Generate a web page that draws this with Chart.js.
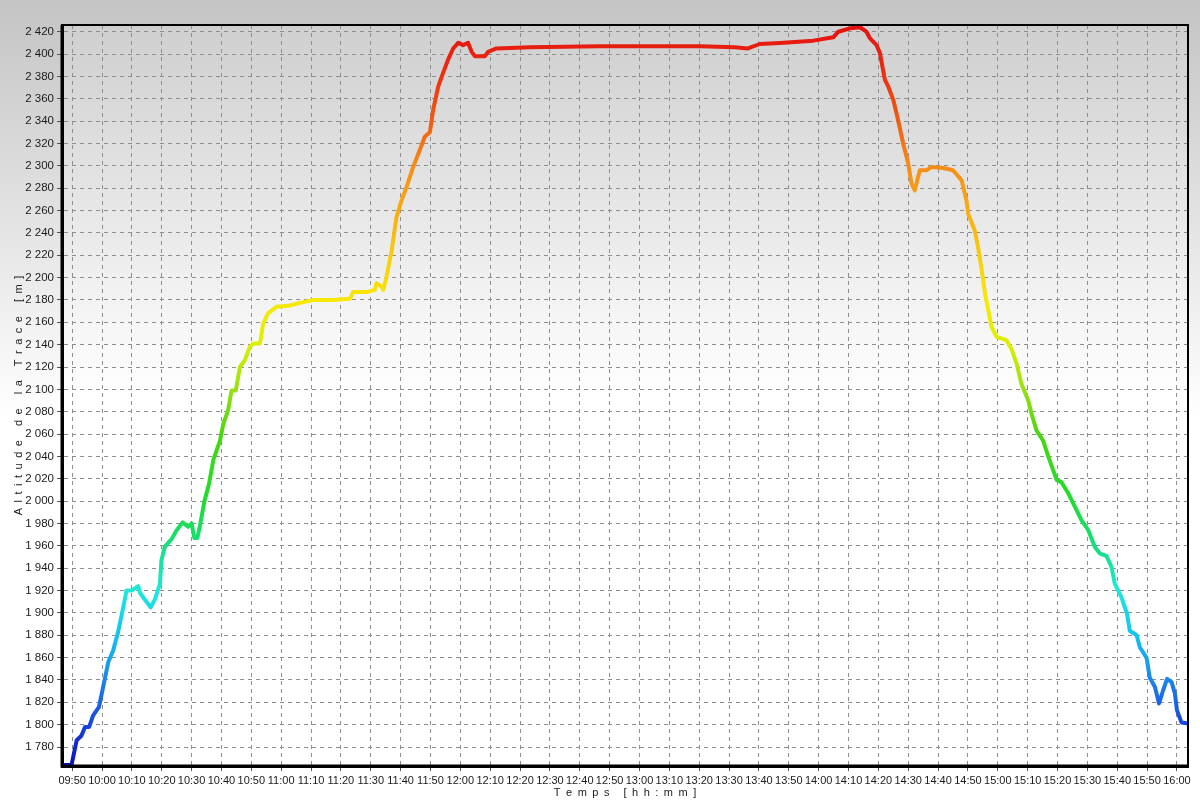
<!DOCTYPE html>
<html>
<head>
<meta charset="utf-8">
<script src="https://cdn.jsdelivr.net/npm/chart.js@4.4.1/dist/chart.umd.min.js"></script>
<style>
html,body{margin:0;padding:0;background:#fff;}
#wrap{width:1200px;height:800px;position:relative;}
</style>
</head>
<body>
<div id="wrap"><canvas id="c" width="1200" height="800"></canvas></div>
<script>
// time in minutes since midnight
const timeMinutes = [
586.6,589.8,591.5,593.1,594.3,595.7,597.0,599.0,600.4,602.1,603.7,605.4,607.1,608.2,609.9,612.1,612.7,614.3,616.3,617.7,
619.4,619.9,621.0,623.3,625.0,627.0,628.8,630.0,630.9,631.9,632.8,634.3,635.8,637.3,639.5,640.6,642.2,643.4,644.8,646.2,
647.8,649.5,650.6,652.9,654.0,655.6,658.5,662.9,667.4,670.7,677.4,683.0,684.1,688.6,691.4,691.9,693.6,694.2,695.3,697.0,
698.6,700.3,702.0,704.2,706.4,708.1,709.8,710.9,712.6,714.2,715.9,717.6,719.3,720.9,722.6,723.8,724.9,728.2,729.3,732.1,
743.3,766.7,800.2,811.9,816.3,820.3,827.0,838.2,844.9,846.6,850.5,853.8,856.0,857.2,859.4,860.5,862.2,863.3,865.0,866.6,
868.3,870.0,871.1,872.2,873.0,873.9,876.1,877.8,881.7,885.0,887.9,889.5,890.1,892.3,893.4,894.6,895.7,896.8,897.9,899.6,
902.9,904.6,906.3,907.9,910.2,911.3,913.0,915.2,916.9,918.5,919.7,921.3,923.6,925.8,928.0,930.3,932.5,934.2,936.4,938.1,
939.2,941.4,943.3,944.2,946.5,947.6,949.8,950.9,952.6,954.0,955.4,956.7,958.2,959.3,960.0,961.5,963.7
];
const altitudes = [
1764,1764,1786,1790,1798,1798,1808,1816,1834,1856,1866,1883,1905,1920,1920,1924,1918,1912,1905,1912,
1926,1947,1959,1966,1974,1981,1977,1980,1967,1967,1978,2000,2015,2037,2054,2069,2081,2099,2099,2120,
2126,2138,2141,2141,2159,2168,2174,2175,2178,2180,2180,2181,2187,2187,2189,2195,2192,2189,2201,2224,
2254,2269,2281,2299,2314,2326,2330,2350,2371,2383,2395,2405,2410,2408,2410,2402,2398,2398,2402,2405,
2406,2407,2407,2406,2405,2409,2410,2412,2415,2420,2423,2424,2420,2414,2408,2401,2377,2371,2359,2341,
2320,2302,2284,2278,2287,2296,2296,2299,2298,2296,2287,2269,2257,2242,2227,2207,2186,2171,2156,2147,
2144,2136,2123,2105,2090,2078,2063,2054,2040,2028,2019,2017,2007,1995,1983,1974,1959,1953,1951,1941,
1926,1914,1899,1884,1880,1869,1860,1842,1834,1819,1831,1841,1838,1828,1813,1802,1801
];
const xTickLabels = ['09:50','10:00','10:10','10:20','10:30','10:40','10:50','11:00','11:10','11:20','11:30','11:40','11:50',
'12:00','12:10','12:20','12:30','12:40','12:50','13:00','13:10','13:20','13:30','13:40','13:50','14:00','14:10','14:20',
'14:30','14:40','14:50','15:00','15:10','15:20','15:30','15:40','15:50','16:00'];
const yTickValues = [1780,1800,1820,1840,1860,1880,1900,1920,1940,1960,1980,2000,2020,2040,2060,2080,2100,2120,2140,
2160,2180,2200,2220,2240,2260,2280,2300,2320,2340,2360,2380,2400,2420];
const xTitleText = 'Temps [hh:mm]';
const yTitleText = 'Altitude de la Trace [m]';

// colour ramp by altitude
const colorStops = [
 [1763,'#0a10c0'],[1800,'#1844e0'],[1840,'#1c84ec'],[1880,'#12c4f0'],[1920,'#20e8dc'],
 [1960,'#14e07c'],[2000,'#20dc30'],[2060,'#48d810'],[2100,'#98e014'],[2140,'#dcf000'],
 [2180,'#f8e808'],[2220,'#f8cc10'],[2260,'#f8ac14'],[2300,'#f68c18'],[2340,'#f05c14'],
 [2380,'#ec3010'],[2426,'#e41010']
];

const spaced = s => s.split('').join('\u2002');
const xTickValues = xTickLabels.map(s => { const p = s.split(':'); return (+p[0])*60 + (+p[1]); });
const points = timeMinutes.map((t,i) => ({x:t, y:altitudes[i]}));

function fmtTime(v){ const h=Math.floor(v/60), m=Math.round(v-h*60); return String(h).padStart(2,'0')+':'+String(m).padStart(2,'0'); }
function fmtAlt(v){ return v>=1000 ? Math.floor(v/1000)+' '+String(v%1000).padStart(3,'0') : String(v); }

const bgPlugin = {
  id:'bg',
  beforeDraw(chart){
    const c = chart.ctx, w = chart.width, h = chart.height;
    const g = c.createLinearGradient(0,0,0,h);
    g.addColorStop(0,'#c4c4c4');
    g.addColorStop(0.52,'#ffffff');
    g.addColorStop(1,'#ffffff');
    c.save(); c.fillStyle = g; c.fillRect(0,0,w,h);
    const a = chart.chartArea;
    const g2 = c.createLinearGradient(0,a.top,0,a.bottom);
    g2.addColorStop(0,'#cfcfcf');
    g2.addColorStop(0.5,'#ffffff');
    g2.addColorStop(1,'#ffffff');
    c.fillStyle = g2; c.fillRect(a.left,a.top,a.right-a.left,a.bottom-a.top);
    c.restore();
  },
  afterDraw(chart){
    const c = chart.ctx, a = chart.chartArea;
    c.save(); c.strokeStyle='#000'; c.lineWidth=2;
    c.strokeRect(a.left, a.top, a.right-a.left, a.bottom-a.top);
    c.lineWidth=3;
    c.beginPath(); c.moveTo(a.left,a.top); c.lineTo(a.left,a.bottom); c.lineTo(a.right,a.bottom); c.stroke();
    c.restore();
  }
};

function lineColor(ctx){
  const chart = ctx.chart, a = chart.chartArea;
  if(!a) return '#e41010';
  const ys = chart.scales.y;
  const y0 = ys.getPixelForValue(colorStops[0][0]);
  const y1 = ys.getPixelForValue(colorStops[colorStops.length-1][0]);
  const g = chart.ctx.createLinearGradient(0,y0,0,y1);
  const lo = colorStops[0][0], hi = colorStops[colorStops.length-1][0];
  colorStops.forEach(s => g.addColorStop((s[0]-lo)/(hi-lo), s[1]));
  return g;
}

const FONT = 'Liberation Sans, Arial, sans-serif';
const gridOpts = { color:'#8e8e8e', lineWidth:1, tickLength:5, tickColor:'#555', tickBorderDash:[] };

new Chart(document.getElementById('c'), {
  type:'line',
  data:{ datasets:[{ data:points, borderColor:lineColor, borderWidth:4, pointRadius:0, tension:0,
    borderJoinStyle:'round', borderCapStyle:'round', fill:false }] },
  options:{
    responsive:false, animation:false, maintainAspectRatio:false,
    layout:{ padding:{ top:25, right:12, left:0, bottom:0 } },
    plugins:{ legend:{display:false}, tooltip:{enabled:false} },
    scales:{
      x:{
        type:'linear', min:586.6, max:963.7,
        afterBuildTicks: s => { s.ticks = xTickValues.map(v => ({value:v})); },
        afterFit: s => { s.height = 34; },
        ticks:{ callback: v => fmtTime(v), color:'#1a1a1a', font:{family:FONT, size:11}, maxRotation:0, autoSkip:false, padding:3 },
        grid: gridOpts,
        border:{ display:true, color:'#000', width:3, dash:[4,4] },
        title:{ display:true, text:spaced(xTitleText), color:'#1a1a1a', font:{family:FONT, size:11}, padding:{top:0,bottom:0} }
      },
      y:{
        type:'linear', min:1763, max:2426,
        afterBuildTicks: s => { s.ticks = yTickValues.map(v => ({value:v})); },
        afterFit: s => { s.width = 62; },
        ticks:{ callback: v => fmtAlt(v), color:'#1a1a1a', font:{family:FONT, size:11.5}, autoSkip:false, padding:3 },
        grid: gridOpts,
        border:{ display:true, color:'#000', width:3, dash:[4,4] },
        title:{ display:true, text:spaced(yTitleText), color:'#1a1a1a', font:{family:FONT, size:11}, padding:{top:12,bottom:0} }
      }
    }
  },
  plugins:[bgPlugin]
});
</script>
</body>
</html>
